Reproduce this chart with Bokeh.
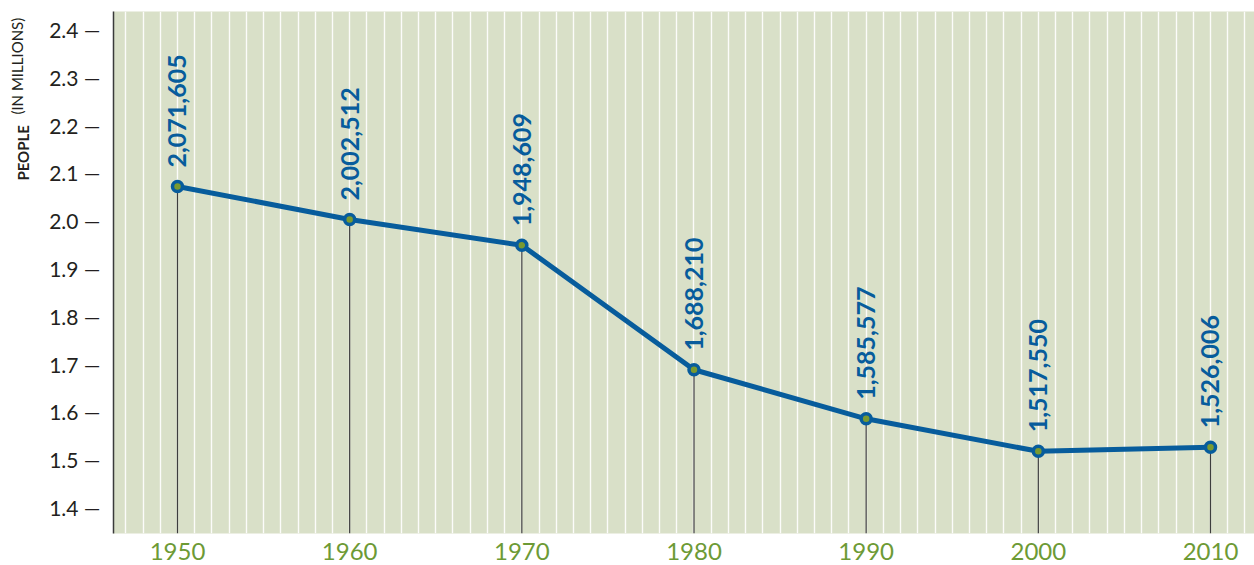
import math
from bokeh.plotting import figure
from bokeh.layouts import row
from bokeh.models import (FixedTicker, SingleIntervalTicker, PrintfTickFormatter,
                          ColumnDataSource, Range1d)
from bokeh.core.properties import value
from bokeh.embed import file_html
from bokeh.resources import INLINE

# ---- data ----
years = [1950, 1960, 1970, 1980, 1990, 2000, 2010]
population = [2071605, 2002512, 1948609, 1688210, 1585577, 1517550, 1526006]
y_ticks = [1.4, 1.5, 1.6, 1.7, 1.8, 1.9, 2.0, 2.1, 2.2, 2.3, 2.4]
x_ticks = [1950, 1960, 1970, 1980, 1990, 2000, 2010]
title_parts = ["PEOPLE", "(IN MILLIONS)"]

millions = [v / 1e6 for v in population]
labels = [f"{v:,}" for v in population]

BLUE = "#075c9c"
GREEN = "#7a9a30"
BG = "#d9e0c8"
XLAB = "#6d9a35"
INK = "#231f20"
FONT = "Lato"

Y0, Y1 = 1.3456, 2.4377
H = 565
TOP, BOTTOM = 11, 32

src = ColumnDataSource(dict(x=years, y=millions, lbl=labels,
                            base=[Y0] * len(years)))

# ---- side panel with the y-axis title (mixed weights) ----
side = figure(width=40, height=H, output_backend="svg", toolbar_location=None,
              x_range=Range1d(0, 40), y_range=Range1d(Y0, Y1),
              x_axis_type=None, y_axis_type=None,
              min_border_left=0, min_border_right=0,
              min_border_top=TOP, min_border_bottom=BOTTOM)
side.outline_line_color = None
side.grid.grid_line_color = None
side.background_fill_color = "white"
side.text(x=[22], y=[2.084], text=[title_parts[0]], angle=math.pi / 2,
          text_align="left", text_baseline="alphabetic", text_line_height=1.0,
          text_font=value(FONT), text_font_style="bold",
          text_font_size="15px", text_color=INK)
side.text(x=[16], y=[2.222], text=[title_parts[1]], angle=math.pi / 2,
          text_align="left", text_baseline="alphabetic", text_line_height=1.0,
          text_font=value(FONT), text_font_style="normal",
          text_font_size="15px", text_color=INK)

# ---- main chart ----
p = figure(width=1214, height=H, output_backend="svg", toolbar_location=None,
           x_range=Range1d(1946.283, 2012.556), y_range=Range1d(Y0, Y1),
           min_border_left=73, min_border_right=0, min_border_top=TOP,
           min_border_bottom=BOTTOM)
p.background_fill_color = BG
p.border_fill_color = "white"
p.outline_line_color = None

# grid: white yearly lines
p.xgrid.ticker = SingleIntervalTicker(interval=1)
p.xgrid.grid_line_color = "white"
p.xgrid.grid_line_width = 1.4
p.xgrid.grid_line_alpha = 0.9
p.ygrid.grid_line_color = None

# y axis
p.yaxis.ticker = FixedTicker(ticks=y_ticks)
p.yaxis.formatter = PrintfTickFormatter(format="%.1f \u2014")
p.yaxis.major_tick_line_color = None
p.yaxis.minor_tick_line_color = None
p.yaxis.major_tick_out = 0
p.yaxis.major_tick_in = 0
p.yaxis.major_label_standoff = 13
p.yaxis.major_label_text_font = FONT
p.yaxis.major_label_text_font_size = "21px"
p.yaxis.major_label_text_color = INK
p.yaxis.axis_line_color = "#3a3a3a"
p.yaxis.axis_line_width = 1.5

# x axis
p.xaxis.ticker = FixedTicker(ticks=x_ticks)
p.xaxis.major_tick_line_color = None
p.xaxis.minor_tick_line_color = None
p.xaxis.major_tick_out = 0
p.xaxis.major_tick_in = 0
p.xaxis.axis_line_color = None
p.xaxis.major_label_standoff = 9
p.xaxis.major_label_text_font = FONT
p.xaxis.major_label_text_font_size = "24px"
p.xaxis.major_label_text_color = XLAB

# drop lines
p.segment(x0="x", y0="base", x1="x", y1="y", source=src,
          line_color="#3d3d3d", line_width=1.2)

# main line
p.line("x", "y", source=src, line_color=BLUE, line_width=5)
p.scatter("x", "y", source=src, size=10, fill_color=GREEN,
          line_color=BLUE, line_width=3.5)

# value labels
p.text("x", "y", text="lbl", source=src, angle=math.pi / 2,
       text_align="left", text_baseline="middle", y_offset=-19,
       text_font=value(FONT), text_font_style="bold",
       text_font_size="25px", text_color=BLUE)

layout = row(side, p, spacing=0)

open("out.html", "w").write(file_html(layout, INLINE))
